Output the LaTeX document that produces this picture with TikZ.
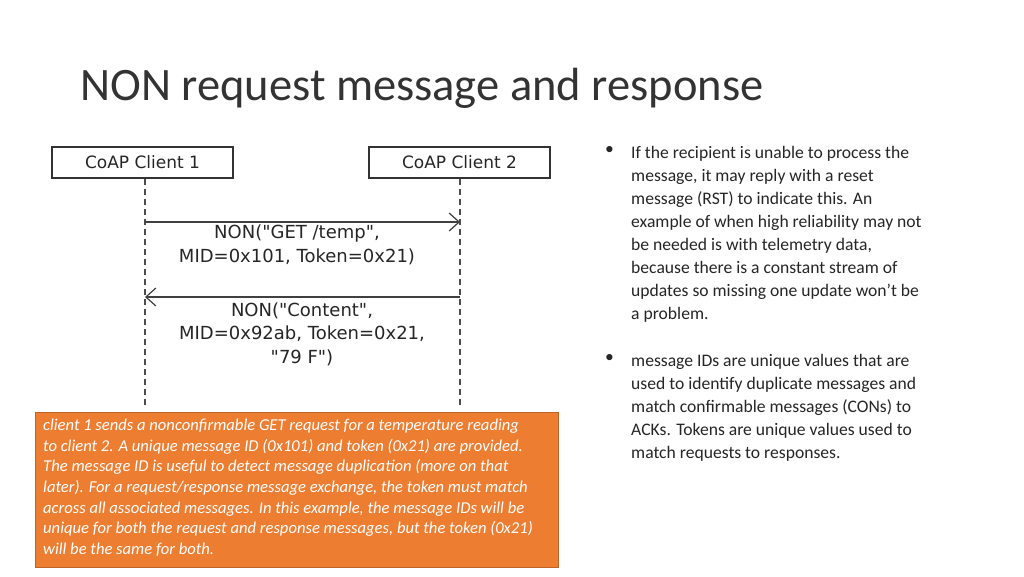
\documentclass[tikz,border=0pt]{standalone}
\usepackage{fontspec}
\setmainfont{Carlito}
\newfontfamily\diag{DejaVu Sans}
\usetikzlibrary{arrows.meta}
\definecolor{orng}{HTML}{ED7D31}
\begin{document}
\begin{tikzpicture}[x=1pt,y=-1pt,
  actor/.style={draw=black!80,line width=1.5pt,fill=white,minimum width=181pt,minimum height=31pt,font=\diag\fontsize{17}{18}\selectfont,text=black!85},
  life/.style={dash pattern=on 6pt off 4pt,line width=1.3pt,black!70},
  msg/.style={line width=1.2pt,black!75,-{Straight Barb[length=10pt,width=18pt,line width=1.2pt]}},
  lbl/.style={font=\diag\fontsize{18}{24}\selectfont,text=black!85,align=center},
  body/.style={font=\fontsize{17.6}{23}\selectfont,text=black!85,align=left,anchor=north west,inner sep=0pt}]
\useasboundingbox (0,0) rectangle (1024,576);
\fill[white] (0,0) rectangle (1024,576);
\node[anchor=base west,inner sep=0pt,font=\fontsize{46.5}{50}\selectfont,text=black!80] (title) at (80,100) {NON request message and response};
\node[actor] (c1) at (142.5,162.5) {CoAP Client 1};
\node[actor] (c2) at (459.5,162.5) {CoAP Client 2};
\coordinate (e1) at (145,405);
\coordinate (e2) at (460,405);
\draw[life] (c1.south -| e1) -- (e1);
\draw[life] (c2.south -| e2) -- (e2);
\coordinate (a1s) at (145,222); \coordinate (a1e) at (460,222);
\coordinate (a2s) at (460,297); \coordinate (a2e) at (145,297);
\draw[msg] (a1s) -- (a1e);
\draw[msg] (a2s) -- (a2e);
\node[lbl,anchor=north] (m1) at (297,221) {NON("GET /temp",\\MID=0x101, Token=0x21)};
\node[lbl,font=\diag\fontsize{18}{23.5}\selectfont,anchor=north] (m2) at (302,299) {NON("Content",\\MID=0x92ab, Token=0x21,\\"79 F")};
\node[fill=orng,draw=orng!80!black,minimum width=523pt,minimum height=155pt,anchor=north west,inner sep=0pt] (ob) at (35,412) {};
\node[anchor=north west,inner sep=0pt,align=left,text=white,font=\itshape\fontsize{16.6}{20.6}\selectfont] (ot) at (43,419) {client 1 sends a nonconfirmable GET request for a temperature reading\\to client 2. A unique message ID (0x101) and token (0x21) are provided.\\The message ID is useful to detect message duplication (more on that\\later). For a request/response message exchange, the token must match\\across all associated messages. In this example, the message IDs will be\\unique for both the request and response messages, but the token (0x21)\\will be the same for both.};
\node[anchor=north west,inner sep=0pt,font=\fontsize{17.6}{23}\selectfont,text=black!85] (b1) at (605,146) {•};
\node[body] (t1) at (631,146) {If the recipient is unable to process the\\message, it may reply with a reset\\message (RST) to indicate this. An\\example of when high reliability may not\\be needed is with telemetry data,\\because there is a constant stream of\\updates so missing one update won’t be\\a problem.};
\node[anchor=north west,inner sep=0pt,font=\fontsize{17.6}{23}\selectfont,text=black!85] (b2) at (605,354) {•};
\node[body] (t2) at (631,354) {message IDs are unique values that are\\used to identify duplicate messages and\\match confirmable messages (CONs) to\\ACKs. Tokens are unique values used to\\match requests to responses.};
\end{tikzpicture}
\end{document}
